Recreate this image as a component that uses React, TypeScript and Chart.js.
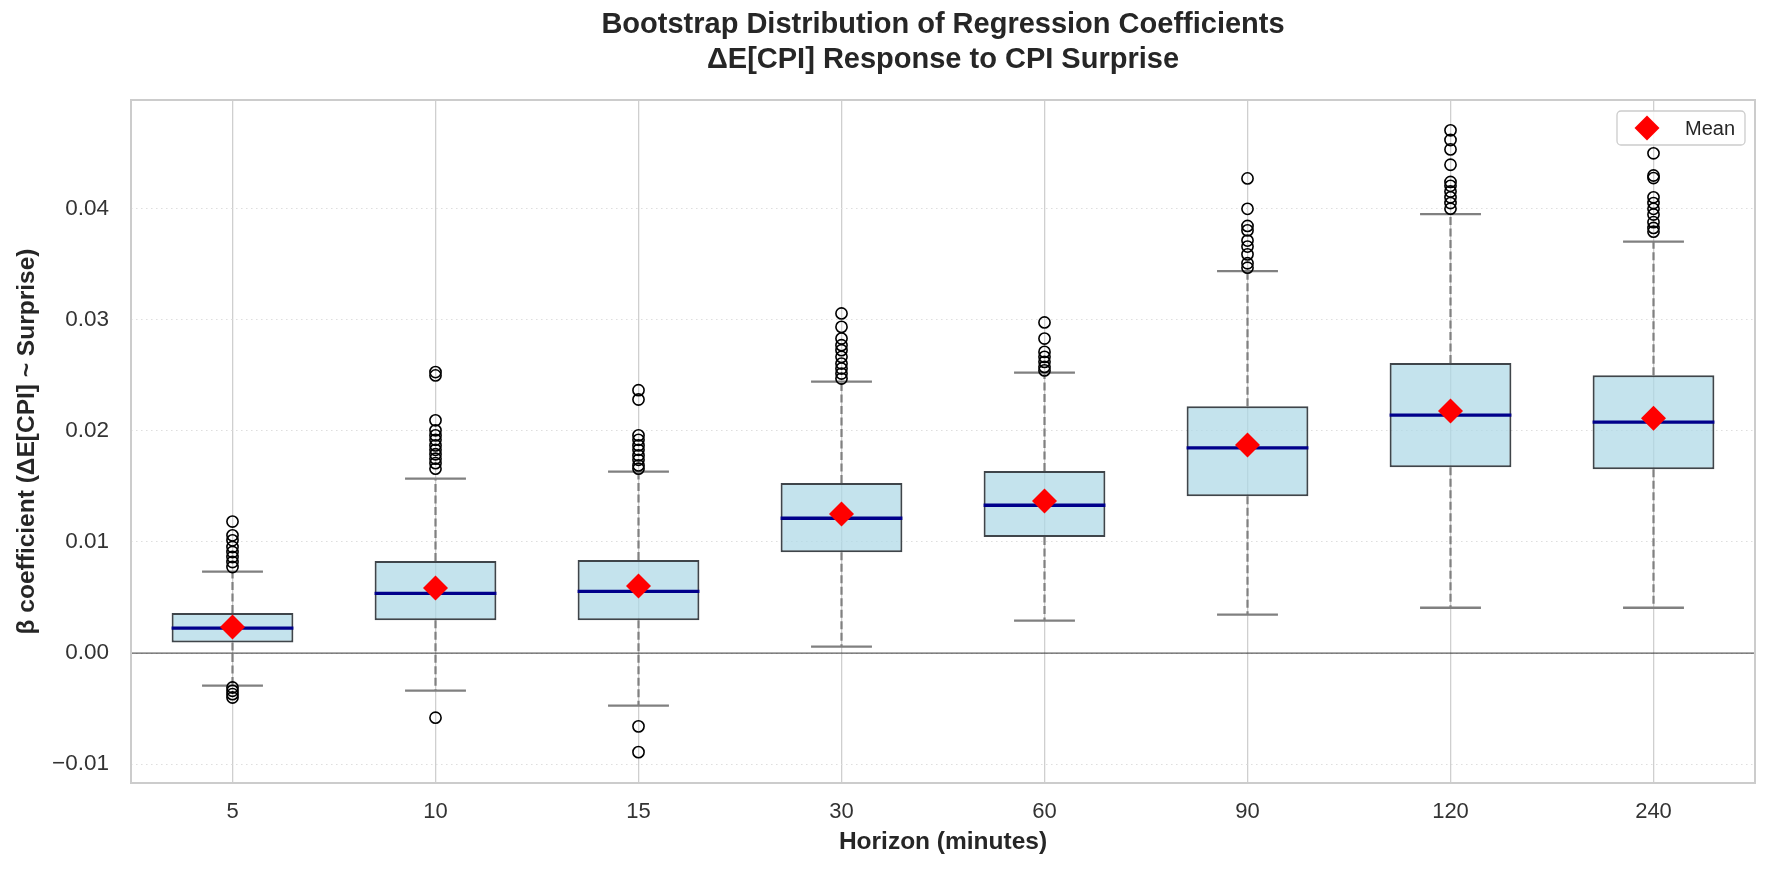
import React, { useEffect, useRef } from 'react';
import { Chart, registerables } from 'chart.js';

Chart.register(...registerables);

// ---- Data ----
const HORIZONS = ['5', '10', '15', '30', '60', '90', '120', '240'];
const Q1 = [0.00096, 0.00295, 0.00295, 0.00907, 0.01045, 0.01412, 0.01673, 0.01656];
const Q3 = [0.0036, 0.00829, 0.00838, 0.01532, 0.0164, 0.02223, 0.02611, 0.02501];
const MEDIAN = [0.00225, 0.00538, 0.00556, 0.01214, 0.01331, 0.01847, 0.02142, 0.0208];
const MEAN = [0.00234, 0.00586, 0.00604, 0.01252, 0.01369, 0.01874, 0.0218, 0.02115];
const WHISKER_LO = [-0.00294, -0.00339, -0.00474, 0.00058, 0.00292, 0.00346, 0.00408, 0.00408];
const WHISKER_HI = [0.00733, 0.01571, 0.01634, 0.02445, 0.02526, 0.0344, 0.03952, 0.03704];
const OUTLIERS_5 = [0.01184, 0.0106, 0.01015, 0.00955, 0.0091, 0.00865, 0.0082, 0.00775, -0.0031, -0.0034, -0.0037, -0.004];
const OUTLIERS_10 = [0.0253, 0.025, 0.02096, 0.02006, 0.0196, 0.0192, 0.0187, 0.0183, 0.0179, 0.0175, 0.0171, 0.0166, -0.00582];
const OUTLIERS_15 = [0.02367, 0.02283, 0.0196, 0.0192, 0.0187, 0.0183, 0.0178, 0.0174, 0.0169, 0.0166, -0.0066, -0.00892];
const OUTLIERS_30 = [0.03058, 0.02937, 0.02832, 0.02772, 0.02727, 0.02667, 0.02607, 0.02562, 0.02517, 0.02472];
const OUTLIERS_60 = [0.02977, 0.02832, 0.02712, 0.02667, 0.02622, 0.02577, 0.02545];
const OUTLIERS_90 = [0.04274, 0.04, 0.03846, 0.03806, 0.03714, 0.0366, 0.0359, 0.0351, 0.0347];
const OUTLIERS_120 = [0.04707, 0.0462, 0.04535, 0.04397, 0.04242, 0.04207, 0.04156, 0.04104, 0.04052, 0.04001];
const OUTLIERS_240 = [0.045, 0.043, 0.04277, 0.04104, 0.04052, 0.04, 0.03949, 0.0388, 0.03828, 0.03794];
const OUTLIERS = [OUTLIERS_5, OUTLIERS_10, OUTLIERS_15, OUTLIERS_30, OUTLIERS_60, OUTLIERS_90, OUTLIERS_120, OUTLIERS_240];
const Y_TICKS = [-0.01, 0, 0.01, 0.02, 0.03, 0.04];
const Y_MIN = -0.0117;
const Y_MAX = 0.0498;

const TITLE = ['Bootstrap Distribution of Regression Coefficients', 'ΔE[CPI] Response to CPI Surprise'];
const X_TITLE = 'Horizon (minutes)';
const Y_TITLE = 'β coefficient (ΔE[CPI] ~ Surprise)';
const MEAN_LABEL = 'Mean';

const FONT = '"Liberation Sans", Arial, Helvetica, sans-serif';
const BOX_HALF = 0.3;
const CAP_HALF = 0.15;

const decorPlugin = {
  id: 'decor',
  afterDraw(chart: any) {
    const { ctx, chartArea: a } = chart;
    ctx.save();
    ctx.strokeStyle = '#cccccc';
    ctx.lineWidth = 2;
    ctx.strokeRect(a.left, a.top, a.right - a.left, a.bottom - a.top);

    // legend box (upper right)
    const ds = chart.data.datasets.find((d: any) => d.label === MEAN_LABEL);
    const w = 128;
    const h = 34;
    const x = a.right - 10 - w;
    const y = a.top + 11;
    ctx.beginPath();
    if ((ctx as any).roundRect) (ctx as any).roundRect(x, y, w, h, 4);
    else ctx.rect(x, y, w, h);
    ctx.fillStyle = 'rgba(255,255,255,0.85)';
    ctx.fill();
    ctx.strokeStyle = '#cccccc';
    ctx.lineWidth = 1.3;
    ctx.stroke();
    const cx = x + 30;
    const cy = y + h / 2;
    const r = ds.pointRadius;
    ctx.beginPath();
    ctx.moveTo(cx - r, cy);
    ctx.lineTo(cx, cy - r);
    ctx.lineTo(cx + r, cy);
    ctx.lineTo(cx, cy + r);
    ctx.closePath();
    ctx.fillStyle = ds.backgroundColor;
    ctx.fill();
    ctx.font = `20px ${FONT}`;
    ctx.fillStyle = '#262626';
    ctx.textBaseline = 'middle';
    ctx.textAlign = 'left';
    ctx.fillText(ds.label, x + 68, cy + 1);
    ctx.restore();
  },
};

export default function App() {
  const ref = useRef<HTMLCanvasElement>(null);

  useEffect(() => {
    if (!ref.current) return;

    const boxData = HORIZONS.map((_, i) => ({ x: i, y: [Q1[i], Q3[i]] }));
    const medianData: any[] = [];
    const whiskerData: any[] = [];
    const capData: any[] = [];
    const outlierData: any[] = [];
    HORIZONS.forEach((_, i) => {
      medianData.push({ x: i - BOX_HALF, y: MEDIAN[i] }, { x: i + BOX_HALF, y: MEDIAN[i] }, { x: i, y: null });
      whiskerData.push(
        { x: i, y: Q3[i] }, { x: i, y: WHISKER_HI[i] }, { x: i, y: null },
        { x: i, y: Q1[i] }, { x: i, y: WHISKER_LO[i] }, { x: i, y: null },
      );
      capData.push(
        { x: i - CAP_HALF, y: WHISKER_HI[i] }, { x: i + CAP_HALF, y: WHISKER_HI[i] }, { x: i, y: null },
        { x: i - CAP_HALF, y: WHISKER_LO[i] }, { x: i + CAP_HALF, y: WHISKER_LO[i] }, { x: i, y: null },
      );
      OUTLIERS[i].forEach((v) => outlierData.push({ x: i, y: v }));
    });
    const meanData = HORIZONS.map((_, i) => ({ x: i, y: MEAN[i] }));
    const zeroData = [{ x: -0.5, y: 0 }, { x: HORIZONS.length - 0.5, y: 0 }];

    const chart = new Chart(ref.current, {
      type: 'bar',
      data: {
        datasets: [
          {
            type: 'scatter',
            label: MEAN_LABEL,
            data: meanData,
            pointStyle: 'rectRot',
            pointRadius: 12.5,
            pointHoverRadius: 12.5,
            backgroundColor: '#ff0000',
            borderColor: '#ff0000',
            borderWidth: 0,
            order: 0,
          } as any,
          {
            type: 'scatter',
            label: 'Outliers',
            data: outlierData,
            pointStyle: 'circle',
            pointRadius: 5.6,
            pointHoverRadius: 5.6,
            backgroundColor: 'rgba(0,0,0,0)',
            borderColor: '#000000',
            borderWidth: 1.6,
            order: 1,
          },
          {
            type: 'line',
            label: 'Median',
            data: medianData,
            borderColor: '#00008b',
            borderWidth: 3.3,
            pointRadius: 0,
            spanGaps: false,
            borderCapStyle: 'butt',
            order: 2,
          } as any,
          {
            type: 'line',
            label: 'Caps',
            data: capData,
            borderColor: '#808080',
            borderWidth: 2.3,
            pointRadius: 0,
            spanGaps: false,
            order: 3,
          } as any,
          {
            type: 'line',
            label: 'Whiskers',
            data: whiskerData,
            borderColor: '#808080',
            borderWidth: 2.2,
            borderDash: [8, 3.5],
            pointRadius: 0,
            spanGaps: false,
            order: 4,
          } as any,
          {
            type: 'bar',
            label: 'IQR',
            data: boxData as any,
            backgroundColor: 'rgba(173,216,230,0.72)',
            borderColor: '#3f454a',
            borderWidth: 2,
            borderSkipped: false,
            barPercentage: 0.6,
            categoryPercentage: 1,
            order: 5,
          } as any,
          {
            type: 'line',
            label: 'Zero',
            data: zeroData,
            borderColor: 'rgba(40,40,40,0.75)',
            borderWidth: 1.3,
            pointRadius: 0,
            order: 6,
          } as any,
        ],
      },
      options: {
        animation: false,
        responsive: false,
        events: [],
        layout: { padding: { left: 0, right: 15, top: 0, bottom: 0 } },
        plugins: {
          legend: { display: false },
          tooltip: { enabled: false },
          title: {
            display: true,
            text: TITLE,
            fullSize: false,
            color: '#262626',
            font: { family: FONT, size: 29, weight: 'bold', lineHeight: 1.2 },
            padding: { top: 7.6, bottom: 22.8 },
          },
        },
        scales: {
          x: {
            type: 'linear',
            min: -0.5,
            max: HORIZONS.length - 0.5,
            offset: false,
            afterBuildTicks: (axis: any) => {
              axis.ticks = HORIZONS.map((_, i) => ({ value: i }));
            },
            afterFit: (axis: any) => {
              axis.height = 88;
            },
            ticks: {
              callback: (v: any) => HORIZONS[Math.round(Number(v))],
              color: '#333333',
              font: { family: FONT, size: 22 },
              padding: 16,
              autoSkip: false,
              maxRotation: 0,
            },
            grid: { color: '#cfcfcf', lineWidth: 1.3, drawTicks: false, offset: false },
            border: { display: false },
            title: {
              display: true,
              text: X_TITLE,
              color: '#262626',
              font: { family: FONT, size: 24.5, weight: 'bold', lineHeight: 1.2 },
              padding: { top: 0, bottom: 14.3 },
            },
          },
          y: {
            type: 'linear',
            min: Y_MIN,
            max: Y_MAX,
            afterBuildTicks: (axis: any) => {
              axis.ticks = Y_TICKS.map((v) => ({ value: v }));
            },
            afterFit: (axis: any) => {
              axis.width = 131;
            },
            ticks: {
              callback: (v: any) => {
                const n = Number(v);
                const s = Math.abs(n).toFixed(2);
                return n < -1e-9 ? '\u2212' + s : s;
              },
              color: '#333333',
              font: { family: FONT, size: 22.5 },
              padding: 22,
            },
            grid: { color: '#dedede', lineWidth: 1.1, drawTicks: false },
            border: { display: false, dash: [1.5, 3.5] },
            title: {
              display: true,
              text: Y_TITLE,
              color: '#262626',
              font: { family: FONT, size: 24.5, weight: 'bold', lineHeight: 1.2 },
              padding: { top: 12.3, bottom: 0 },
            },
          },
        },
      } as any,
      plugins: [decorPlugin],
    });

    return () => chart.destroy();
  }, []);

  return (
    <div style={{ position: 'fixed', left: 0, top: 0, width: 1770, height: 871, background: '#ffffff' }}>
      <canvas ref={ref} width={1770} height={871} style={{ display: 'block', width: 1770, height: 871 }} />
    </div>
  );
}
